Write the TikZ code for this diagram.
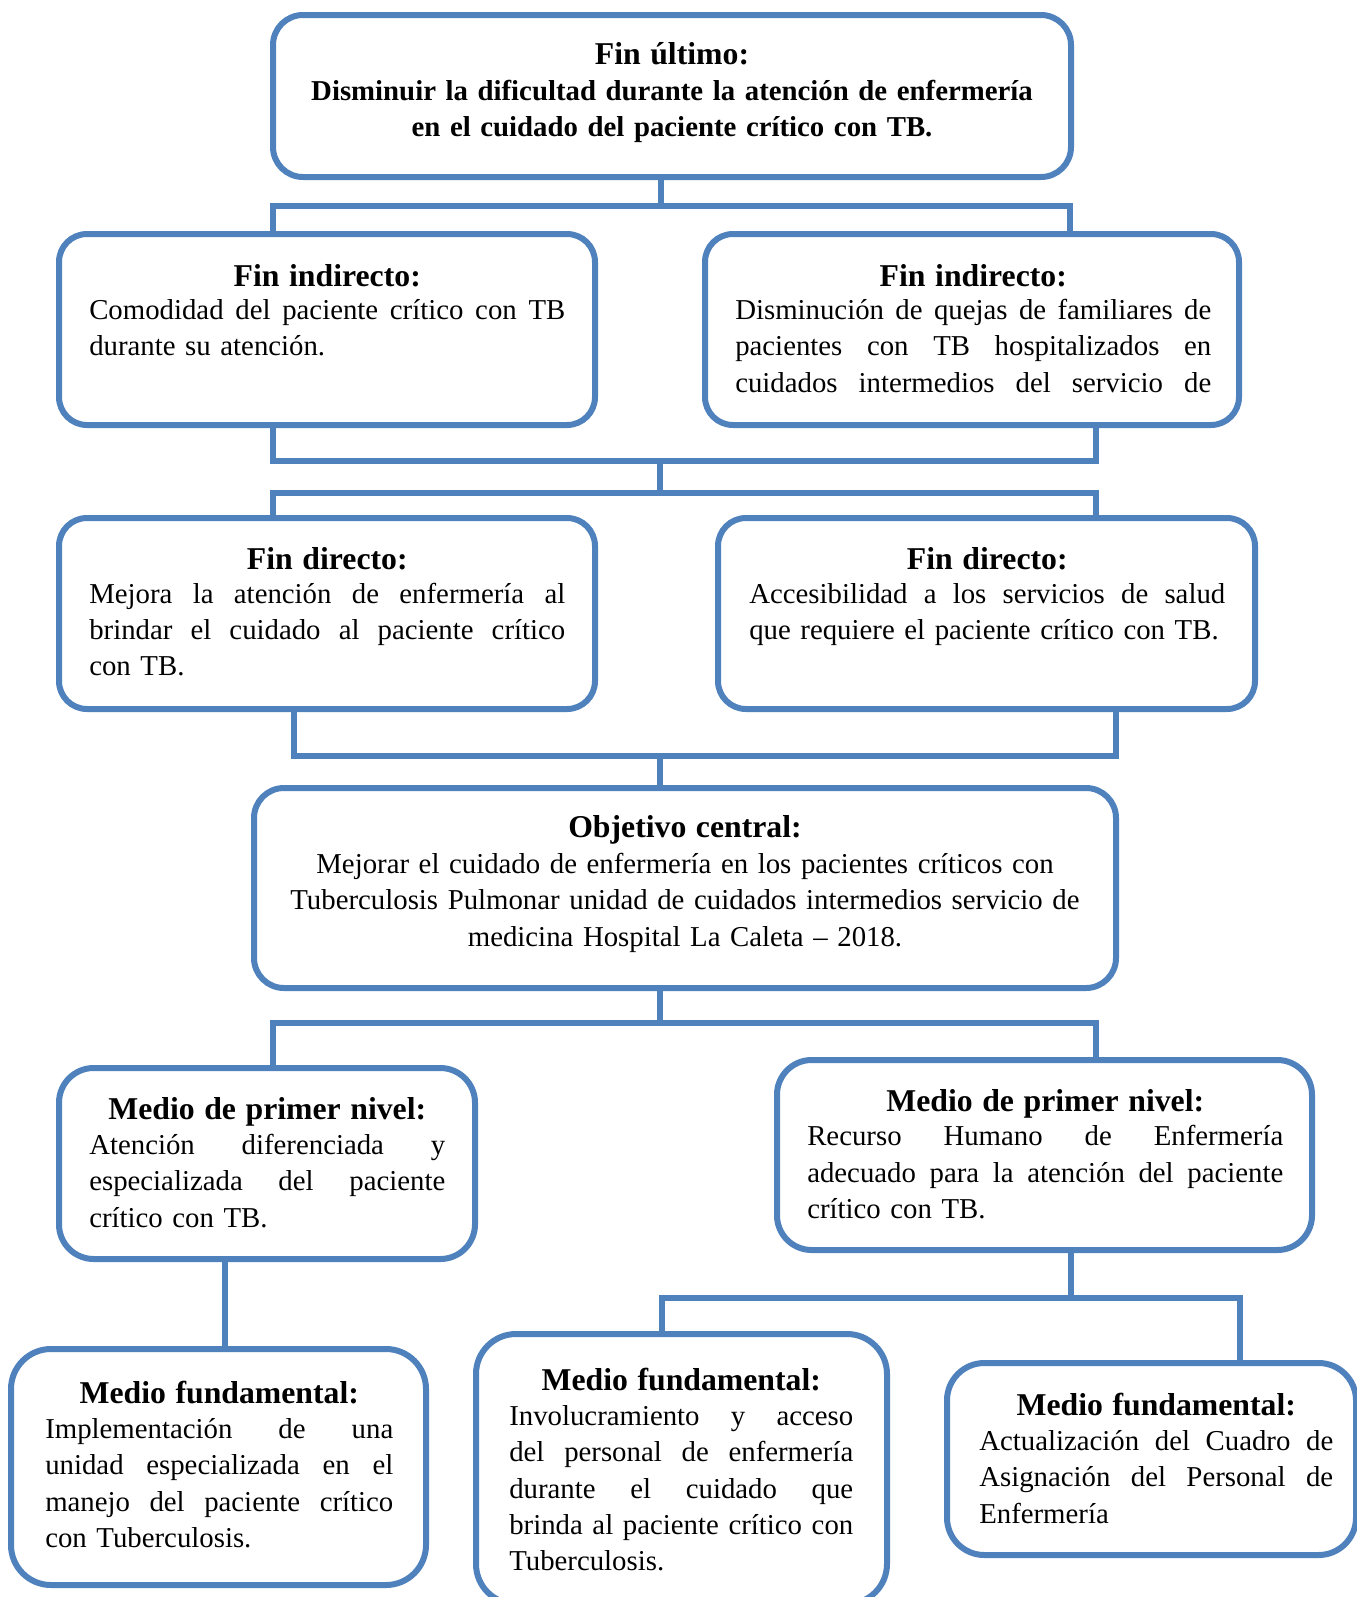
\documentclass[tikz,border=0pt]{standalone}
\usepackage{fontspec}
\setmainfont{Liberation Serif}
\usetikzlibrary{fit}
\definecolor{bl}{RGB}{79,129,189}
\newcommand{\hdr}[1]{\makebox[\hsize]{\rule{0pt}{20pt}\fontsize{23.8}{27.2}\selectfont\bfseries #1}}
\newcommand{\jline}[1]{\leavevmode\hbox to\hsize{\spaceskip=.25em plus 1fil minus .1em\relax #1}}
\newcommand{\eline}[1]{\leavevmode\hbox{#1}}
\begin{document}
\begin{tikzpicture}[x=0.75pt,y=-0.75pt,
  box/.style={draw=bl,line width=4.5pt,fill=white,inner sep=0pt,rounded corners=#1},
  box/.default=21pt,
  con/.style={draw=bl,line width=4pt},
  txt/.style={inner sep=0pt,anchor=north west,yshift=20pt,
    font=\fontsize{21.6}{27.2}\selectfont,execute at begin node={\parindent=0pt}},
  ctxt/.style={txt,anchor=north,align=center}]
\useasboundingbox (0,0) rectangle (1357,1597);
\clip (0,0) rectangle (1357,1597);
\fill[white] (0,0) rectangle (1357,1597);

% ---------- boxes ----------
\node[box=22.5pt, fit={(273,15) (1071,177)}] (T) {};
\node[box, fit={(59,234) (595,425)}] (R2L) {};
\node[box, fit={(705,234) (1239,425)}] (R2R) {};
\node[box, fit={(59,518) (595,709)}] (R3L) {};
\node[box, fit={(718,518) (1255,709)}] (R3R) {};
\node[box=22.5pt, fit={(254,788) (1116,988)}] (OBJ) {};
\node[box=26pt, fit={(59,1068) (475,1259)}] (R4L) {};
\node[box=26pt, fit={(777,1060) (1312,1250)}] (R4R) {};
\node[box=30pt, fit={(11,1349) (426,1585)}] (R5L) {};
\node[box=30pt, fit={(476,1334) (887,1604)}] (R5M) {};
\node[box=28pt, fit={(947,1363) (1356,1555)}] (R5R) {};

% ---------- texts ----------
\node[ctxt, text width=600pt] (tT) at (672,64) {\hdr{Fin último:}\\
  {\bfseries Disminuir la dificultad durante la atención de enfermería}\\
  {\bfseries en el cuidado del paciente crítico con TB.}};
\node[txt, text width=357pt] (t2l) at (89,286) {\hdr{Fin indirecto:}\\[-2.2pt]
  \jline{Comodidad del paciente crítico con TB}\\
  \eline{durante su atención.}};
\node[txt, text width=357pt] (t2r) at (735,286) {\hdr{Fin indirecto:}\\[-2.2pt]
  \jline{Disminución de quejas de familiares de}\\
  \jline{pacientes con TB hospitalizados en}\\
  \jline{cuidados intermedios del servicio de}};
\node[txt, text width=357pt] (t3l) at (89,569) {\hdr{Fin directo:}\\[-1.6pt]
  \jline{Mejora la atención de enfermería al}\\
  \jline{brindar el cuidado al paciente crítico}\\
  \eline{con TB.}};
\node[txt, text width=357pt] (t3r) at (749,569) {\hdr{Fin directo:}\\[-1.6pt]
  \jline{Accesibilidad a los servicios de salud}\\
  \eline{que requiere el paciente crítico con TB.}};
\node[ctxt, text width=630pt] (tO) at (685,837) {\hdr{Objetivo central:}\\
  Mejorar el cuidado de enfermería en los pacientes críticos con\\
  Tuberculosis Pulmonar unidad de cuidados intermedios servicio de\\
  medicina Hospital La Caleta – 2018.};
\node[txt, text width=267pt] (t4l) at (89,1119) {\hdr{Medio de primer nivel:}\\[-0.8pt]
  \jline{Atención diferenciada y}\\
  \jline{especializada del paciente}\\
  \eline{crítico con TB.}};
\node[txt, text width=357pt] (t4r) at (807,1111) {\hdr{Medio de primer nivel:}\\[-1.2pt]
  \jline{Recurso Humano de Enfermería}\\
  \jline{adecuado para la atención del paciente}\\
  \eline{crítico con TB.}};
\node[txt, text width=261pt] (t5l) at (45,1403) {\hdr{Medio fundamental:}\\[-0.8pt]
  \jline{Implementación de una}\\
  \jline{unidad especializada en el}\\
  \jline{manejo del paciente crítico}\\
  \eline{con Tuberculosis.}};
\node[txt, text width=258pt] (t5m) at (509,1390) {\hdr{Medio fundamental:}\\[-0.8pt]
  \jline{Involucramiento y acceso}\\
  \jline{del personal de enfermería}\\
  \jline{durante el cuidado que}\\
  \jline{brinda al paciente crítico con}\\
  \eline{Tuberculosis.}};
\node[txt, text width=265.5pt] (t5r) at (979,1415) {\hdr{Medio fundamental:}\\[-0.8pt]
  \jline{Actualización del Cuadro de}\\
  \jline{Asignación del Personal de}\\
  \eline{Enfermería}};

% ---------- connectors ----------
\coordinate (b1c) at (661,206);
\coordinate (b1l) at (273,206);
\coordinate (b1r) at (1070,206);
\draw[con] (T.south -| b1c) -- (b1c);
\draw[con] (R2L.north -| b1l) -- (b1l) -- (b1r) -- (R2R.north -| b1r);

\coordinate (b2l) at (273,461);
\coordinate (b2r) at (1096,461);
\coordinate (b2c) at (660,461);
\coordinate (b3l) at (273,493);
\coordinate (b3r) at (1096,493);
\coordinate (b3c) at (660,493);
\draw[con] (R2L.south -| b2l) -- (b2l) -- (b2r) -- (R2R.south -| b2r);
\draw[con] (b2c) -- (b3c);
\draw[con] (R3L.north -| b3l) -- (b3l) -- (b3r) -- (R3R.north -| b3r);

\coordinate (b4l) at (294,756);
\coordinate (b4r) at (1116,756);
\coordinate (b4c) at (660,756);
\draw[con] (R3L.south -| b4l) -- (b4l) -- (b4r) -- (R3R.south -| b4r);
\draw[con] (b4c) -- (OBJ.north -| b4c);

\coordinate (b5c) at (660,1023);
\coordinate (b5l) at (273,1023);
\coordinate (b5r) at (1096,1023);
\draw[con] (OBJ.south -| b5c) -- (b5c);
\draw[con] (R4L.north -| b5l) -- (b5l) -- (b5r) -- (R4R.north -| b5r);

\coordinate (c6) at (225,1300);
\draw[con] (R4L.south -| c6) -- (R5L.north -| c6);

\coordinate (b6c) at (1071,1298);
\coordinate (b6l) at (662,1298);
\coordinate (b6r) at (1240,1298);
\draw[con] (R4R.south -| b6c) -- (b6c);
\draw[con] (R5M.north -| b6l) -- (b6l) -- (b6r) -- (R5R.north -| b6r);
\end{tikzpicture}
\end{document}
